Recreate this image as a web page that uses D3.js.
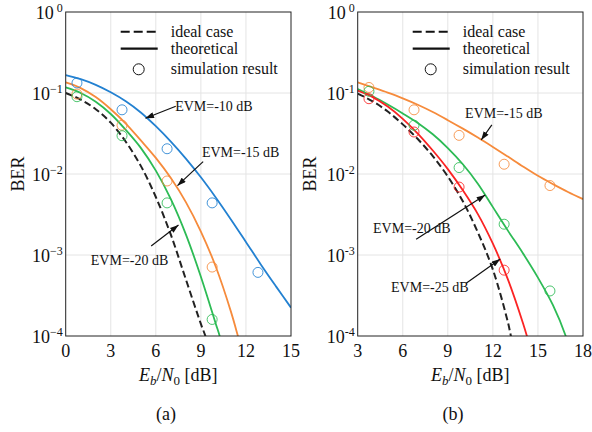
<!DOCTYPE html>
<html lang="en">
<head>
<meta charset="UTF-8">
<title>BER vs Eb/N0</title>
<style>
  body { margin: 0; background: #fff; }
  svg text { font-family: "Liberation Serif", "Times New Roman", "DejaVu Serif", serif; fill: #111; }
</style>
</head>
<body>
<div id="chart"></div>
<script src="https://d3js.org/d3.v7.min.js"></script>
<script>
// ---------- data ----------
// panel (a)
const ebA = [0, 3, 6, 9, 12, 15];
const idealA_x = [0, 1, 2, 3, 4, 5, 6, 7, 8, 9, 9.3, 9.6];
const idealA   = [0.1, 0.083, 0.063, 0.043, 0.025, 0.0126, 0.0052, 0.00178, 5.0e-4, 1.41e-4, 1e-4, 6.5e-5];
const evm10A_x = [0, 1, 2, 3, 4, 5, 6, 7, 8, 9, 10, 11, 12, 13, 14, 15];
const evm10A   = [0.166, 0.148, 0.126, 0.102, 0.079, 0.0575, 0.0389, 0.0251, 0.0155, 0.0091, 0.0051, 0.00275, 0.00145, 7.6e-4, 4.1e-4, 2.24e-4];
const evm15A_x = [0, 1, 2, 3, 4, 5, 6, 7, 8, 9, 10, 11, 11.5, 11.8];
const evm15A   = [0.135, 0.115, 0.089, 0.063, 0.042, 0.026, 0.0158, 0.0089, 0.0045, 0.00195, 7.1e-4, 2.0e-4, 9.5e-5, 6e-5];
const evm20A_x = [0, 1, 2, 3, 4, 5, 6, 7, 8, 9, 10, 10.25, 10.5];
const evm20A   = [0.117, 0.1, 0.078, 0.055, 0.035, 0.021, 0.011, 0.0049, 0.0018, 5.4e-4, 1.4e-4, 1e-4, 6e-5];
const simA_x   = [0.75, 3.75, 6.75, 9.75, 12.8];
const sim10A   = [0.133, 0.062, 0.0205, 0.0044, 6.1e-4];
const sim15A   = [0.097, 0.04, 0.0082, 7.1e-4];
const sim20A   = [0.09, 0.0297, 0.0044, 1.6e-4];

// panel (b)
const ebB = [3, 6, 9, 12, 15, 18];
const idealB_x = [3, 4, 5, 6, 7, 8, 9, 10, 11, 12, 13, 13.2, 13.5];
const idealB   = [0.098, 0.079, 0.059, 0.041, 0.027, 0.0166, 0.0093, 0.0046, 0.0019, 6.6e-4, 1.48e-4, 1e-4, 6e-5];
const evm15B_x = [3, 4, 5, 6, 7, 8, 9, 10, 11, 12, 13, 14, 15, 16, 17, 18];
const evm15B   = [0.135, 0.117, 0.101, 0.086, 0.0716, 0.0582, 0.0462, 0.0363, 0.0282, 0.0216, 0.0164, 0.0124, 0.0095, 0.0075, 0.006, 0.0049];
const evm20B_x = [3, 4, 5, 6, 7, 8, 9, 10, 11, 12, 13, 14, 15, 16, 16.85, 17.2];
const evm20B   = [0.112, 0.091, 0.072, 0.056, 0.0427, 0.0309, 0.0209, 0.0132, 0.0076, 0.0039, 0.002, 0.00105, 5.25e-4, 2.4e-4, 1e-4, 6e-5];
const evm25B_x = [3, 4, 5, 6, 7, 8, 9, 10, 11, 12, 13, 14, 14.3, 14.6];
const evm25B   = [0.107, 0.089, 0.068, 0.048, 0.0316, 0.0195, 0.0115, 0.0063, 0.0032, 0.00138, 5.0e-4, 1.45e-4, 9.5e-5, 6e-5];
const simB_x   = [3.75, 6.75, 9.75, 12.75, 15.8];
const sim15B   = [0.117, 0.062, 0.030, 0.0132, 0.0072];
const sim20B   = [0.105, 0.040, 0.012, 0.0024, 3.6e-4];
const sim25B   = [0.085, 0.033, 0.0069, 6.5e-4];

const berTicks = [1e-4, 1e-3, 1e-2, 1e-1, 1];
const expA = ["\u22124", "\u22123", "\u22122", "\u22121", " 0"];
const expB = ["-4", "-3", "-2", "-1", " 0"];
const legendLabels = ["ideal case", "theoretical", "simulation result"];

const blue = "#2381d1", orange = "#f68b3c", green = "#2dbb55", red = "#fb2424";

// ---------- drawing ----------
const W = 592, H = 432, plotTop = 12, plotBottom = 336;
const serif = "Liberation Serif, Times New Roman, DejaVu Serif, serif";

const svg = d3.select("#chart").append("svg")
    .attr("width", W).attr("height", H)
    .attr("font-family", serif)
    .style("background", "#fff");

svg.append("defs").append("marker")
    .attr("id", "arrow")
    .attr("viewBox", "0 0 10 7")
    .attr("refX", 10).attr("refY", 3.5)
    .attr("markerWidth", 9).attr("markerHeight", 6)
    .attr("markerUnits", "userSpaceOnUse")
    .attr("orient", "auto")
  .append("path").attr("d", "M0,0 L10,3.5 L0,7 z").attr("fill", "#111");

const y = d3.scaleLog().domain([1e-4, 1]).range([plotBottom, plotTop]);

function panel(p) {
  const x = d3.scaleLinear().domain(p.domain).range([p.left, p.right]);
  const g = svg.append("g");

  // grid
  g.selectAll(".gx").data(p.ticks.slice(1, -1)).join("line")
    .attr("x1", d => x(d)).attr("x2", d => x(d))
    .attr("y1", plotTop).attr("y2", plotBottom)
    .attr("stroke", "#e4e4e4").attr("stroke-width", 1);
  g.selectAll(".gy").data(berTicks.slice(1, -1)).join("line")
    .attr("x1", p.left).attr("x2", p.right)
    .attr("y1", d => y(d)).attr("y2", d => y(d))
    .attr("stroke", "#e4e4e4").attr("stroke-width", 1);

  // clip
  const cid = "clip" + p.id;
  svg.select("defs").append("clipPath").attr("id", cid)
    .append("rect").attr("x", p.left).attr("y", plotTop)
    .attr("width", p.right - p.left).attr("height", plotBottom - plotTop);
  const plot = g.append("g").attr("clip-path", `url(#${cid})`);

  const line = d3.line().x(d => x(d[0])).y(d => y(d[1])).curve(d3.curveCatmullRom.alpha(0.5));
  p.curves.forEach(c => {
    plot.append("path")
      .datum(d3.zip(c.x, c.v))
      .attr("d", line)
      .attr("fill", "none")
      .attr("stroke", c.color)
      .attr("stroke-width", c.dash ? 2 : 1.8)
      .attr("stroke-dasharray", c.dash ? "7,3.5" : null);
  });
  p.sims.forEach(s => {
    plot.selectAll(null).data(d3.zip(p.simX, s.v)).join("circle")
      .attr("cx", d => x(d[0])).attr("cy", d => y(d[1]))
      .attr("r", 5).attr("fill", "none")
      .attr("stroke", s.color).attr("stroke-width", 1)
      .attr("opacity", 0.85);
  });

  // frame
  g.append("rect").attr("x", p.left).attr("y", plotTop)
    .attr("width", p.right - p.left).attr("height", plotBottom - plotTop)
    .attr("fill", "none").attr("stroke", "#222").attr("stroke-width", 1);

  // x tick labels
  g.selectAll(".xt").data(p.ticks).join("text")
    .attr("x", d => x(d)).attr("y", plotBottom + 21)
    .attr("text-anchor", "middle").attr("font-size", 18)
    .text(d => d);

  // y tick labels
  const yt = g.selectAll(".yt").data(berTicks).join("text")
    .attr("x", p.left - 3).attr("y", d => y(d) + 6.5)
    .attr("text-anchor", "end").attr("font-size", 18);
  yt.append("tspan").text("10");
  yt.append("tspan").attr("dy", -7).attr("font-size", 12)
    .style("white-space", "pre")
    .text((d, i) => p.exps[i]);

  // axis titles
  g.append("text")
    .attr("transform", `translate(${p.left - 48},${(plotTop + plotBottom) / 2}) rotate(-90)`)
    .attr("text-anchor", "middle").attr("font-size", 18).attr("dy", "0.35em")
    .text("BER");
  const xl = g.append("text")
    .attr("x", (p.left + p.right) / 2).attr("y", plotBottom + 45)
    .attr("text-anchor", "middle").attr("font-size", 18);
  xl.append("tspan").attr("font-style", "italic").text("E");
  xl.append("tspan").attr("font-style", "italic").attr("font-size", 13).attr("dy", 4).text("b");
  xl.append("tspan").attr("dy", -4).text("/");
  xl.append("tspan").attr("font-style", "italic").text("N");
  xl.append("tspan").attr("font-size", 13).attr("dy", 4).text("0");
  xl.append("tspan").attr("dy", -4).text(" [dB]");

  g.append("text").attr("x", p.labelX).attr("y", 420)
    .attr("text-anchor", "middle").attr("font-size", 18).text(p.name);

  // legend
  const lx = p.left + 55;
  g.append("line").attr("x1", lx).attr("x2", lx + 37).attr("y1", 31.7).attr("y2", 31.7)
    .attr("stroke", "#111").attr("stroke-width", 2).attr("stroke-dasharray", "9,4");
  g.append("line").attr("x1", lx).attr("x2", lx + 37).attr("y1", 48.7).attr("y2", 48.7)
    .attr("stroke", "#111").attr("stroke-width", 2.2);
  g.append("circle").attr("cx", lx + 18).attr("cy", 69.3).attr("r", 5.5)
    .attr("fill", "none").attr("stroke", "#111").attr("stroke-width", 1);
  g.selectAll(".lg").data(legendLabels).join("text")
    .attr("x", lx + 50).attr("y", (d, i) => [36.5, 54, 74][i])
    .attr("font-size", 16).text(d => d);

  // annotations
  p.notes.forEach(n => {
    g.append("line")
      .attr("x1", x(n.from[0])).attr("y1", y(n.from[1]))
      .attr("x2", x(n.to[0])).attr("y2", y(n.to[1]))
      .attr("stroke", "#111").attr("stroke-width", 1.2)
      .attr("marker-end", "url(#arrow)");
    g.append("text").attr("x", x(n.at[0])).attr("y", y(n.at[1]))
      .attr("font-size", 14).text(n.text);
  });
}

panel({
  id: "a", name: "(a)", left: 65.7, right: 291, domain: [0, 15], ticks: ebA, exps: expA, labelX: 166,
  curves: [
    { x: idealA_x, v: idealA, color: "#222", dash: true },
    { x: evm10A_x, v: evm10A, color: blue },
    { x: evm15A_x, v: evm15A, color: orange },
    { x: evm20A_x, v: evm20A, color: green }
  ],
  simX: simA_x,
  sims: [ { v: sim10A, color: blue }, { v: sim15A, color: orange }, { v: sim20A, color: green } ],
  notes: [
    { text: "EVM=-10 dB", at: [7.29, 0.06], from: [7.33, 0.0686], to: [5.31, 0.0487] },
    { text: "EVM=-15 dB", at: [9.07, 0.0162], from: [9.15, 0.0142], to: [7.44, 0.00718] },
    { text: "EVM=-20 dB", at: [1.67, 7.53e-4], from: [5.69, 0.00129], to: [7.51, 0.00234] }
  ]
});

panel({
  id: "b", name: "(b)", left: 357.7, right: 583, domain: [3, 18], ticks: ebB, exps: expB, labelX: 453,
  curves: [
    { x: idealB_x, v: idealB, color: "#222", dash: true },
    { x: evm15B_x, v: evm15B, color: orange },
    { x: evm20B_x, v: evm20B, color: green },
    { x: evm25B_x, v: evm25B, color: red }
  ],
  simX: simB_x,
  sims: [ { v: sim15B, color: orange }, { v: sim20B, color: green }, { v: sim25B, color: red } ],
  notes: [
    { text: "EVM=-15 dB", at: [10.15, 0.0491], from: [11.93, 0.0403], to: [11.22, 0.0263] },
    { text: "EVM=-20 dB", at: [4.02, 0.00187], from: [6.89, 0.00156], to: [11.49, 0.0055] },
    { text: "EVM=-25 dB", at: [5.22, 3.49e-4], from: [10.22, 4.47e-4], to: [12.49, 8.9e-4] }
  ]
});
</script>
</body>
</html>
